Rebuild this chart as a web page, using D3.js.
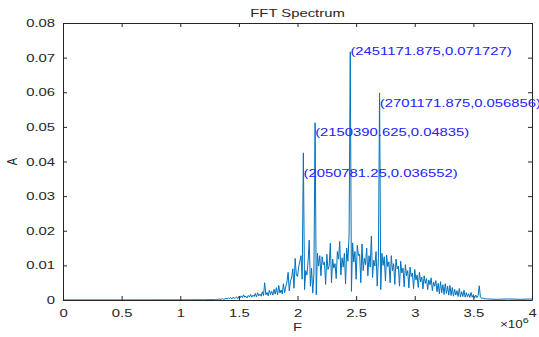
<!DOCTYPE html>
<head>
  <meta charset="utf-8">
  <script src="https://d3js.org/d3.v7.min.js"></script>
  <style>
    body { margin:0; background-color: white; }
    text { font-family: 'Liberation Sans', Arial, sans-serif; fill: #262626; }
    .axis path, .axis line { stroke: #262626; stroke-width: 1px; }
    .axis text { font-size: 11px; fill: #262626; }
    .tip { fill: #2222ff; font-size: 11px; }
  </style>
</head>
<body>
  <svg id="chart" width="539" height="337"></svg>
  <script>
  // FFT bins of the noisy band, 10 kHz apart starting at 1.3 MHz
  var bandStart = 1.3e6, binStep = 1e4;
  var bandAmp = [
    0.0001,0.0002,0.0001,0.0003,0.0002,0.0002,0.0004,0.0002,0.0003,0.0005,
    0.0003,0.0006,0.0004,0.0007,0.0003,0.0008,0.0005,0.0006,0.0009,0.0004,
    0.0010,0.0006,0.0012,0.0007,0.0015,0.0008,0.0011,0.0006,0.0013,0.0009,
    0.0016,0.0008,0.0014,0.0010,0.0019,0.0009,0.0021,0.0012,0.0017,0.0011,
    0.0024,0.0013,0.0050,0.0015,0.0022,0.0012,0.0028,0.0016,0.0025,0.0014,
    0.0031,0.0017,0.0036,0.0015,0.0042,0.0020,0.0029,0.0018,0.0047,0.0021,
    0.0038,0.0052,0.0080,0.0026,0.0055,0.0064,0.0090,0.0034,0.0120,0.0072,
    0.0068,0.0095,0.0112,0.0128,0.0060,0.0425,0.0030,0.0085,0.0072,0.0110,
    0.0173,0.0040,0.0092,0.0020,0.0075,0.0512,0.0015,0.0135,0.0098,0.0128,
    0.0070,0.0125,0.0102,0.0110,0.0045,0.0132,0.0088,0.0098,0.0164,0.0050,
    0.0118,0.0092,0.0105,0.0062,0.0140,0.0118,0.0169,0.0072,0.0122,0.0095,
    0.0135,0.0046,0.0150,0.0112,0.0188,0.0717,0.0025,0.0165,0.0110,0.0140,
    0.0060,0.0158,0.0128,0.0132,0.0050,0.0162,0.0085,0.0120,0.0102,0.0150,
    0.0070,0.0128,0.0095,0.0185,0.0065,0.0115,0.0098,0.0140,0.0040,0.0120,
    0.0598,0.0030,0.0135,0.0100,0.0125,0.0055,0.0130,0.0096,0.0110,0.0050,
    0.0128,0.0085,0.0105,0.0045,0.0118,0.0090,0.0098,0.0040,0.0112,0.0078,
    0.0092,0.0038,0.0102,0.0070,0.0085,0.0035,0.0095,0.0068,0.0078,0.0033,
    0.0088,0.0058,0.0072,0.0036,0.0080,0.0052,0.0066,0.0032,0.0070,0.0048,
    0.0062,0.0030,0.0058,0.0044,0.0064,0.0027,0.0052,0.0040,0.0056,0.0024,
    0.0048,0.0018,0.0053,0.0021,0.0044,0.0016,0.0047,0.0019,0.0040,0.0014,
    0.0042,0.0013,0.0036,0.0011,0.0031,0.0014,0.0027,0.0010,0.0033,0.0009,
    0.0024,0.0010,0.0028,0.0008,0.0021,0.0009,0.0018,0.0007,0.0022,0.0008,
    0.0016,0.0006,0.0014,0.0007,0.0012,0.0041,0.0009,0.0005,0.0006,0.0004,
    0.0004,0.0003,0.0003
  ];
  // quiet parts outside the band
  var edgeFreq = [0, 0.5e6, 1.0e6, 1.2e6, 1.29e6, 3.7e6, 3.8e6, 3.9e6, 4.0e6];
  var edgeAmp  = [0.00002, 0.00002, 0.00004, 0.00006, 0.0001, 0.0002, 0.0003, 0.0002, 0.0003];

  // data tips (label text as shown)
  var tipFreq = [2451171.875, 2701171.875, 2150390.625, 2050781.25];
  var tipAmp  = [0.071727, 0.056856, 0.04835, 0.036552];
  var tipText = ["(2451171.875,0.071727)", "(2701171.875,0.056856)", "(2150390.625,0.04835)", "(2050781.25,0.036552)"];

  var xTicks = [0, 0.5e6, 1e6, 1.5e6, 2e6, 2.5e6, 3e6, 3.5e6, 4e6];
  var yTicks = [0, 0.01, 0.02, 0.03, 0.04, 0.05, 0.06, 0.07, 0.08];

  var stretch = 1.35;
  var margin = {top: 23, right: 7, bottom: 37, left: 63},
      width = 539 - margin.left - margin.right,
      height = 337 - margin.top - margin.bottom;

  var data = [];
  edgeFreq.forEach(function(f, i) { data.push({f: f, a: edgeAmp[i]}); });
  bandAmp.forEach(function(a, i) { data.push({f: bandStart + i * binStep, a: a}); });
  data.sort(function(p, q) { return p.f - q.f; });

  var svg = d3.select("#chart");
  var g = svg.append("g").attr("transform", "translate(" + margin.left + "," + margin.top + ")");

  var x = d3.scaleLinear().domain([0, 4e6]).range([0, width]);
  var y = d3.scaleLinear().domain([0, 0.08]).range([height, 0]);

  var line = d3.line()
      .x(function(d) { return x(d.f); })
      .y(function(d) { return y(d.a); });

  g.append("path")
      .datum(data)
      .attr("fill", "none")
      .attr("stroke", "#0072BD")
      .attr("stroke-width", 1)
      .attr("stroke-linejoin", "round")
      .attr("d", line);

  var fmtX = function(d) { return String(d / 1e6); };
  var fmtY = function(d) { return d === 0 ? "0" : d3.format(".2f")(d); };

  g.append("g").attr("class", "axis")
      .attr("transform", "translate(0," + height + ")")
      .call(d3.axisBottom(x).tickValues(xTicks).tickFormat(fmtX).tickSizeInner(-4).tickSizeOuter(0).tickPadding(9));
  g.append("g").attr("class", "axis")
      .call(d3.axisTop(x).tickValues(xTicks).tickFormat("").tickSizeInner(-4).tickSizeOuter(0));
  g.append("g").attr("class", "axis")
      .call(d3.axisLeft(y).tickValues(yTicks).tickFormat(fmtY).tickSizeInner(-4).tickSizeOuter(0).tickPadding(8));
  g.append("g").attr("class", "axis")
      .attr("transform", "translate(" + width + ",0)")
      .call(d3.axisRight(y).tickValues(yTicks).tickFormat("").tickSizeInner(-4).tickSizeOuter(0));

  // widen glyphs like the reference
  g.selectAll(".axis text").each(function() {
    var t = d3.select(this);
    var tx = +t.attr("x") || 0;
    t.attr("x", tx / stretch).attr("transform", "scale(" + stretch + ",1)");
  });
  g.selectAll(".axis").attr("font-family", null).attr("font-size", null);

  function label(px, py, str, size, anchor, cls) {
    return svg.append("text")
      .attr("class", cls || null)
      .attr("transform", "translate(" + px + "," + py + ") scale(" + stretch + ",1)")
      .attr("text-anchor", anchor)
      .style("font-size", size + "px")
      .text(str);
  }

  label(margin.left + width / 2, 17, "FFT Spectrum", 11, "middle");
  label(margin.left + width / 2, 331, "F", 11, "middle");

  svg.append("text")
      .attr("transform", "translate(16.5," + (margin.top + height / 2) + ") rotate(-90) scale(1," + stretch + ")")
      .attr("text-anchor", "middle")
      .style("font-size", "11px")
      .text("A");

  var expo = label(500, 328, "\u00d710", 10, "start");
  expo.append("tspan").attr("dy", -5).style("font-size", "8px").text("6");

  tipText.forEach(function(s, i) {
    label(margin.left + x(tipFreq[i]), margin.top + y(tipAmp[i]), s, 11, "start", "tip")
      .attr("dy", "0.35em");
  });
  </script>
</body>
